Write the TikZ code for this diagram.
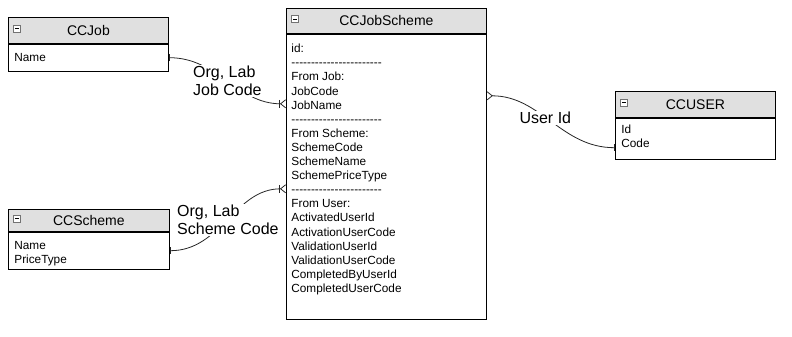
\documentclass[tikz,border=0pt]{standalone}
\usepackage{fontspec}
\setmainfont{Liberation Sans}[Ligatures=TeXOff]
\usepackage{tikz}
\usetikzlibrary{arrows.meta,positioning,calc}

\definecolor{headgray}{RGB}{224,224,224}

\begin{document}
\begin{tikzpicture}[x=1pt, y=-1pt, line width=0.8pt,
    every node/.style={font=\fontsize{11.8}{14.1}\selectfont},
    head/.style={draw, fill=headgray, anchor=north west, inner sep=0pt,
      font=\fontsize{14}{16}\selectfont},
    body/.style={draw, fill=white, inner sep=0pt},
    fields/.style={align=left, inner sep=0pt},
    icon/.style={draw=black!55, fill=white, minimum size=7pt, inner sep=0pt, line width=0.6pt},
    rel/.style={draw=black!85},
    rellabel/.style={fill=white, align=left, inner sep=1pt,
      font=\fontsize{16}{18.5}\selectfont}]
  \path[use as bounding box] (0,0) rectangle (792,337);

  % CCJob
  \node[head, minimum width=160pt, minimum height=26pt] (job-head) at (8,17) {CCJob};
  \node[body, minimum width=160pt, minimum height=27pt, below=0pt of job-head] (job-body) {};
  \node[icon, right=5pt of job-head.west, yshift=2pt] (job-icon) {\rule[-0.3pt]{4pt}{0.6pt}};
  \node[fields, below right=9pt and 6pt of job-body.north west] (job-fields) {Name};

  % CCScheme
  \node[head, minimum width=161pt, minimum height=22pt] (scheme-head) at (8,209) {CCScheme};
  \node[body, minimum width=161pt, minimum height=37pt, below=0pt of scheme-head] (scheme-body) {};
  \node[icon, right=5pt of scheme-head.west, yshift=2pt] (scheme-icon) {\rule[-0.3pt]{4pt}{0.6pt}};
  \node[fields, below right=9pt and 6pt of scheme-body.north west] (scheme-fields)
    {Name\\PriceType};

  % CCJobScheme
  \node[head, minimum width=200pt, minimum height=25pt] (js-head) at (286,8) {CCJobScheme};
  \node[body, minimum width=200pt, minimum height=285pt, below=0pt of js-head] (js-body) {};
  \node[icon, right=5pt of js-head.west, yshift=2pt] (js-icon) {\rule[-0.3pt]{4pt}{0.6pt}};
  \node[fields, below right=10pt and 5pt of js-body.north west] (js-fields)
    {id:\\
     -----------------------\\
     From Job:\\
     JobCode\\
     JobName\\
     -----------------------\\
     From Scheme:\\
     SchemeCode\\
     SchemeName\\
     SchemePriceType\\
     -----------------------\\
     From User:\\
     ActivatedUserId\\
     ActivationUserCode\\
     ValidationUserId\\
     ValidationUserCode\\
     CompletedByUserId\\
     CompletedUserCode};

  % CCUSER
  \node[head, minimum width=160pt, minimum height=26pt] (user-head) at (615,91) {CCUSER};
  \node[body, minimum width=160pt, minimum height=41pt, below=0pt of user-head] (user-body) {};
  \node[icon, right=5pt of user-head.west, yshift=2pt] (user-icon) {\rule[-0.3pt]{4pt}{0.6pt}};
  \node[fields, below right=7pt and 6pt of user-body.north west] (user-fields)
    {Id\\Code};

  % connector ends
  \coordinate (js-job) at ($(js-body.north west)+(0,70)$);
  \coordinate (js-scheme) at ($(js-body.north west)+(0,155)$);
  \coordinate (js-user) at ($(js-body.north east)+(0,62)$);
  \coordinate (user-in) at ($(user-body.west)+(0,9)$);

  % relations
  \draw[rel, {Bar[width=7pt]}-{Bar[width=8pt]Straight Barb[reversed,length=5pt,width=8pt]}]
    (job-body.east) to[out=0, in=180] node[rellabel] (job-rel) {Org, Lab\\Job Code} (js-job);
  \draw[rel, {Bar[width=7pt]}-{Bar[width=8pt]Straight Barb[reversed,length=5pt,width=8pt]}]
    (scheme-body.east) to[out=0, in=180] node[rellabel] (scheme-rel) {Org, Lab\\Scheme Code} (js-scheme);
  \draw[rel, {Straight Barb[reversed,length=5pt,width=8pt]}-{Bar[width=7pt]}]
    (js-user) to[out=0, in=180] node[rellabel, pos=0.45] (user-rel) {User Id} (user-in);
\end{tikzpicture}
\end{document}
